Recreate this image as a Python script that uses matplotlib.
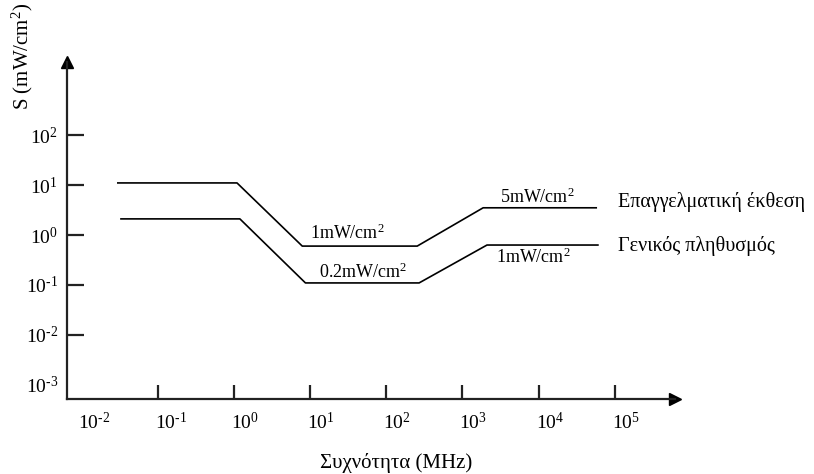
import numpy as np
import matplotlib
matplotlib.use("Agg")
import matplotlib.pyplot as plt
import matplotlib.transforms as mtransforms

plt.rcParams['font.family'] = ['Liberation Serif', 'DejaVu Serif']
plt.rcParams['mathtext.fontset'] = 'custom'
plt.rcParams['mathtext.rm'] = 'Liberation Serif'
plt.rcParams['mathtext.default'] = 'regular'

# exposure limits
occ_freq = [0.030, 1.1, 7.9, 255, 1870, 57000]
occ_s = [11, 11, 0.6, 0.6, 3.5, 3.5]
gen_freq = [0.033, 1.2, 8.7, 270, 2100, 60000]
gen_s = [2.1, 2.1, 0.11, 0.11, 0.63, 0.63]

x_exps = [-2, -1, 0, 1, 2, 3, 4, 5]
y_exps = [-3, -2, -1, 0, 1, 2]

W, H = 814, 474
fig = plt.figure(figsize=(W / 100, H / 100), dpi=100)
# axes box in pixels: left 67, right 675, bottom 399, top 62
ax = fig.add_axes([67 / W, (H - 399) / H, (675 - 67) / W, (399 - 62) / H])
ax.set_xscale('log')
ax.set_yscale('log')
ax.set_xlim(10 ** -2.19, 10 ** 5.79)
ax.set_ylim(10 ** -3.28, 10 ** 3.46)

ax.plot(occ_freq, occ_s, color='black', lw=1.2)
ax.plot(gen_freq, gen_s, color='black', lw=1.2)

for s in ['top', 'right']:
    ax.spines[s].set_visible(False)
for s in ['left', 'bottom']:
    ax.spines[s].set_linewidth(1.6)
    ax.spines[s].set_color('#222222')

# arrow heads
ax.plot([1], [0], marker='>', ms=9, color='black', transform=ax.transAxes, clip_on=False)
ax.plot([0], [1], marker='^', ms=9, color='black', transform=ax.transAxes, clip_on=False)

# ticks inside, labels placed by hand
ax.minorticks_off()
ax.set_xticks([10.0 ** e for e in x_exps if e > -2])
ax.set_yticks([10.0 ** e for e in y_exps if e > -3])
ax.tick_params(axis='x', direction='in', length=10, width=1.6, color='#222222', labelbottom=False)
ax.tick_params(axis='y', direction='in', length=12, width=1.6, color='#222222', labelleft=False)

def pow_label(e):
    return r'10$^{\text{%d}}$' % e

xt = mtransforms.offset_copy(ax.get_xaxis_transform(), fig=fig, x=-3, y=-13, units='dots')
for e in x_exps:
    ax.text(10.0 ** e, 0, pow_label(e), transform=xt, ha='left', va='top', fontsize=14)

yt = mtransforms.offset_copy(ax.get_yaxis_transform(), fig=fig, x=-9, y=-2, units='dots')
for e in y_exps:
    ax.text(0, 10.0 ** e, pow_label(e), transform=yt, ha='right', va='center', fontsize=14)

# value annotations
ax.text(31, 1.1, '1mW/cm$^2$', ha='center', va='center', fontsize=13)
ax.text(49, 0.18, '0.2mW/cm$^2$', ha='center', va='center', fontsize=13)
ax.text(9500, 5.8, '5mW/cm$^2$', ha='center', va='center', fontsize=13)
ax.text(8500, 0.36, '1mW/cm$^2$', ha='center', va='center', fontsize=13)

# series names
ax.text(1.1e5, 4.6, 'Επαγγελματική έκθεση', ha='left', va='center', fontsize=14.5, clip_on=False)
ax.text(1.1e5, 0.6, 'Γενικός πληθυσμός', ha='left', va='center', fontsize=14.5, clip_on=False)

fig.text(22 / W, 1 - 56 / H, 'S (mW/cm$^2$)', rotation=90, ha='center', va='center', fontsize=15)
fig.text(396 / W, 1 - 463 / H, 'Συχνότητα (MHz)', ha='center', va='center', fontsize=15)

fig.savefig('out.png', dpi=100)
